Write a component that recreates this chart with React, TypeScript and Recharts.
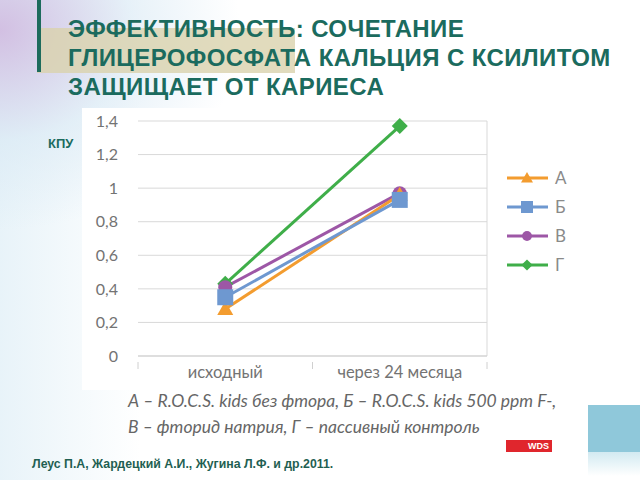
import { LineChart, Line, XAxis, YAxis, CartesianGrid, ReferenceLine } from "recharts";

const periods = ["исходный", "через 24 месяца"];
const seriesA = [0.28, 0.96];
const seriesB = [0.35, 0.93];
const seriesV = [0.41, 0.97];
const seriesG = [0.43, 1.37];
const yTicks = [0, 0.2, 0.4, 0.6, 0.8, 1, 1.2, 1.4];

const series = [
  { key: "A", name: "А", color: "#F39C2F", shape: "triangle" },
  { key: "B", name: "Б", color: "#6E98D0", shape: "square" },
  { key: "V", name: "В", color: "#9D57A6", shape: "circle" },
  { key: "G", name: "Г", color: "#3FAE49", shape: "diamond" },
];

// draw order so that the square ends up on top
const drawOrder = ["G", "V", "A", "B"];

const data = periods.map((p, i) => ({
  x: i + 0.5,
  name: p,
  A: seriesA[i],
  B: seriesB[i],
  V: seriesV[i],
  G: seriesG[i],
}));

function markerPath(shape: string, cx: number, cy: number) {
  if (shape === "triangle") return `M${cx},${cy - 8} L${cx + 8},${cy + 6} L${cx - 8},${cy + 6} Z`;
  if (shape === "square") return `M${cx - 8},${cy - 8} h16 v16 h-16 Z`;
  if (shape === "diamond") return `M${cx},${cy - 8} L${cx + 8},${cy} L${cx},${cy + 8} L${cx - 8},${cy} Z`;
  return `M${cx - 7},${cy} a7,7 0 1,0 14,0 a7,7 0 1,0 -14,0`;
}

function makeDot(shape: string, color: string) {
  return (props: any) => (
    <path key={`${shape}-${props.index}`} d={markerPath(shape, props.cx, props.cy)} fill={color} />
  );
}

function XTick(props: any) {
  const { x, y, payload } = props;
  const v = payload.value;
  if (Number.isInteger(v)) {
    return <line x1={x} x2={x} y1={y - 2} y2={y + 5} stroke="#d0d0d0" />;
  }
  return (
    <text x={x} y={y + 14} textAnchor="middle" fill="#737373" fontSize={16.5} fontFamily="Lato, sans-serif">
      {periods[Math.round(v - 0.5)]}
    </text>
  );
}

function LegendBox() {
  return (
    <svg width={110} height={120} style={{ position: "absolute", left: 507, top: 170 }}>
      {series.map((s, i) => {
        const cy = 8 + i * 29;
        const shrink = s.shape === "triangle" || s.shape === "square" ? 0.75 : 0.7;
        return (
          <g key={s.key}>
            <line x1={0} x2={41} y1={cy} y2={cy} stroke={s.color} strokeWidth={3} />
            <g transform={`translate(20,${cy}) scale(${shrink}) translate(-20,${-cy})`}>
              <path d={markerPath(s.shape, 20, cy)} fill={s.color} />
            </g>
            <text x={48} y={cy + 6} fontSize={17} fill="#8a8a8a" fontFamily="Lato, sans-serif">
              {s.name}
            </text>
          </g>
        );
      })}
    </svg>
  );
}

export default function App() {
  return (
    <div
      style={{
        position: "absolute",
        left: 0,
        top: 0,
        width: 640,
        height: 480,
        overflow: "hidden",
        background:
          "radial-gradient(ellipse 240px 200px at 0px 30px, rgba(208,186,224,0.9), rgba(215,232,244,0.6) 55%, rgba(255,255,255,0) 100%), linear-gradient(90deg, rgba(222,238,246,0.7), rgba(255,255,255,0) 22%), #fff",
        fontFamily: "'Liberation Sans', Arial, sans-serif",
      }}
    >
      <div style={{ position: "absolute", left: 37, top: 28, width: 258, height: 45, background: "rgba(218,210,172,0.8)" }} />
      <div style={{ position: "absolute", left: 37, top: 0, width: 4, height: 72, background: "#1d6b5c" }} />
      <div
        style={{
          position: "absolute",
          left: 68,
          top: 14,
          fontSize: 24,
          letterSpacing: 0.4,
          lineHeight: "29px",
          fontWeight: "bold",
          color: "#1b6b5e",
          whiteSpace: "nowrap",
        }}
      >
        ЭФФЕКТИВНОСТЬ: СОЧЕТАНИЕ
        <br />
        ГЛИЦЕРОФОСФАТА КАЛЬЦИЯ С КСИЛИТОМ
        <br />
        ЗАЩИЩАЕТ ОТ КАРИЕСА
      </div>
      <div style={{ position: "absolute", left: 82, top: 108, width: 418, height: 282, background: "#fff" }} />
      <div style={{ position: "absolute", left: 48, top: 136, fontSize: 13, fontWeight: "bold", color: "#1b6b5e" }}>КПУ</div>

      <div style={{ position: "absolute", left: 80, top: 100 }}>
        <LineChart width={560} height={290} data={data} margin={{ top: 21, right: 153, bottom: 4, left: 18 }}>
          <CartesianGrid vertical={false} stroke="#d9d9d9" />
          <XAxis
            dataKey="x"
            type="number"
            domain={[0, 2]}
            ticks={[0, 0.5, 1, 1.5, 2]}
            tick={<XTick />}
            tickLine={false}
            axisLine={{ stroke: "#d0d0d0" }}
            height={30}
            interval={0}
          />
          <YAxis
            domain={[0, 1.4]}
            ticks={yTicks}
            interval={0}
            width={40}
            tickLine={false}
            axisLine={false}
            tickMargin={14}
            tick={{ fill: "#737373", fontSize: 16, fontFamily: "Lato, sans-serif" }}
            tickFormatter={(v: number) => String(v).replace(".", ",")}
          />
          <ReferenceLine x={2} stroke="#d9d9d9" />
          {drawOrder.map((k) => {
            const s = series.find((q) => q.key === k)!;
            return (
              <Line
                key={s.key}
                dataKey={s.key}
                name={s.name}
                stroke={s.color}
                strokeWidth={3}
                dot={makeDot(s.shape, s.color)}
                activeDot={false}
                isAnimationActive={false}
              />
            );
          })}
        </LineChart>
      </div>
      <LegendBox />

      <div
        style={{
          position: "absolute",
          left: 128,
          top: 388,
          fontSize: 17.5,
          lineHeight: "26px",
          fontStyle: "italic",
          color: "#666",
          fontFamily: "Lato, sans-serif",
          whiteSpace: "nowrap",
        }}
      >
        А – R.O.C.S. kids без фтора, Б – R.O.C.S. kids 500 ppm F-,
        <br />
        В – фторид натрия, Г – пассивный контроль
      </div>

      <div
        style={{
          position: "absolute",
          left: 506,
          top: 440,
          width: 46,
          height: 12,
          background: "#e0262d",
          color: "#fff",
          fontSize: 9,
          fontWeight: "bold",
          lineHeight: "12px",
          textAlign: "right",
          paddingRight: 3,
          boxSizing: "border-box",
        }}
      >
        WDS
      </div>
      <div style={{ position: "absolute", left: 588, top: 405, width: 52, height: 47, background: "#8fc8da" }} />
      <div
        style={{
          position: "absolute",
          left: 588,
          top: 452,
          width: 52,
          height: 24,
          background: "linear-gradient(180deg, rgba(180,220,232,0.6), rgba(255,255,255,0))",
        }}
      />

      <div style={{ position: "absolute", left: 32, top: 457, fontSize: 12.3, fontWeight: "bold", color: "#1f5f52", whiteSpace: "nowrap" }}>
        Леус П.А, Жардецкий А.И., Жугина Л.Ф. и др.2011.
      </div>
    </div>
  );
}
